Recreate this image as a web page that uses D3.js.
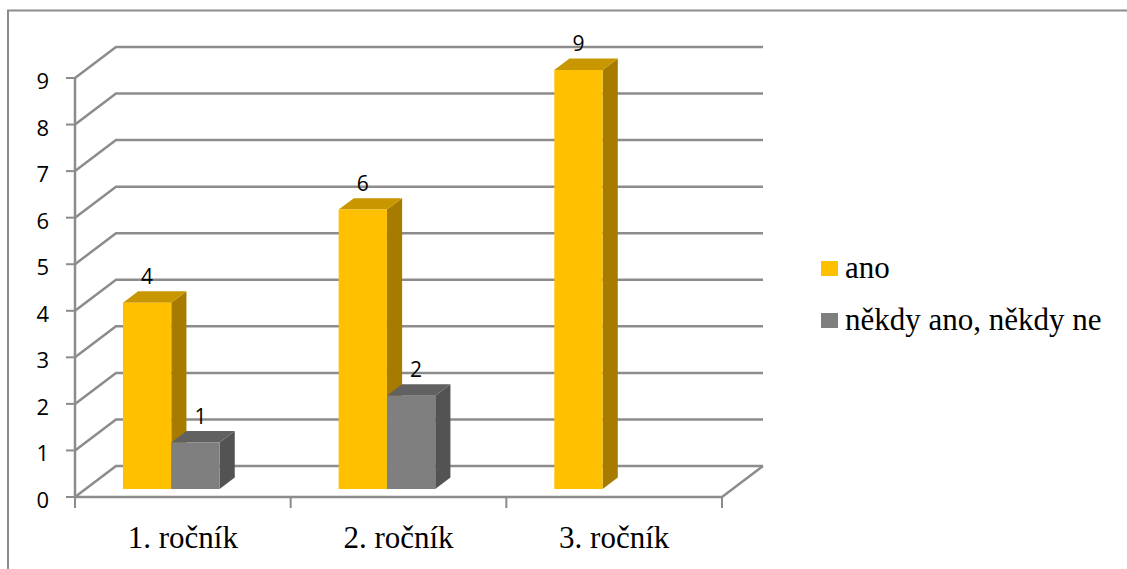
<!DOCTYPE html>
<html>
<head>
<meta charset="utf-8">
<script src="https://cdn.jsdelivr.net/npm/d3@7"></script>
<style>
  html, body { margin: 0; padding: 0; background: #fff; }
  svg { display: block; }
</style>
</head>
<body>
<svg id="chart" width="1127" height="569"></svg>
<script>
// Chart data
const categories = ["1. ročník", "2. ročník", "3. ročník"];
const seriesNames = ["ano", "někdy ano, někdy ne"];
const anoValues = [4, 6, 9];
const nekdyValues = [1, 2, null];
const yTicks = [0, 1, 2, 3, 4, 5, 6, 7, 8, 9];

const seriesValues = [anoValues, nekdyValues];
const faceColors = [
  { front: "#FFC000", top: "#C89700", side: "#A67B00" },
  { front: "#7F7F7F", top: "#616161", side: "#535353" }
];

const svg = d3.select("#chart");

// Outer frame
svg.append("rect")
  .attr("x", 8).attr("y", 10.5)
  .attr("width", 1140).attr("height", 580)
  .attr("fill", "none").attr("stroke", "#8c8c8c").attr("stroke-width", 2);

// Front plane scales
const x0 = d3.scaleBand().domain(categories).range([75, 722]).paddingInner(0).paddingOuter(0);
const y = d3.scaleLinear().domain([0, 9]).range([497, 78]);

// Depth direction of the 3D box (full depth vector)
const depthX = 41, depthY = -31;
const project = (px, v, z) => [px + z * depthX, y(v) + z * depthY];

const bw = x0.bandwidth();
const x1 = d3.scaleBand().domain(seriesNames).range([bw * 0.173, bw * 0.621]).padding(0);
const zFront = 0.26, zBack = 0.63;

const gridColor = "#8c8c8c";
const sansFont = "Open Sans, Liberation Sans, Arial, sans-serif";
const serifFont = "Liberation Serif, Times New Roman, serif";

// Back wall gridlines with the slanted side-wall segment
const grid = svg.append("g");
yTicks.forEach(t => {
  const a = project(75, t, 0), b = project(75, t, 1), c = project(722, t, 1);
  grid.append("path")
    .attr("d", `M${a[0]},${a[1]}L${b[0]},${b[1]}L${c[0]},${c[1]}`)
    .attr("fill", "none").attr("stroke", gridColor).attr("stroke-width", 2.5);
});

// Floor: front edge and right slanted edge
{
  const a = project(75, 0, 0), b = project(722, 0, 0), c = project(722, 0, 1);
  svg.append("path")
    .attr("d", `M${a[0]},${a[1]}L${b[0]},${b[1]}L${c[0]},${c[1]}`)
    .attr("fill", "none").attr("stroke", gridColor).attr("stroke-width", 2.5);
}

// Vertical axis line and ticks
svg.append("line")
  .attr("x1", 75).attr("x2", 75).attr("y1", y(9)).attr("y2", y(0) + 1)
  .attr("stroke", gridColor).attr("stroke-width", 2.5);
const yAxisG = svg.append("g");
yTicks.forEach(t => {
  yAxisG.append("line")
    .attr("x1", 66).attr("x2", 75).attr("y1", y(t)).attr("y2", y(t))
    .attr("stroke", gridColor).attr("stroke-width", 2);
  yAxisG.append("text")
    .attr("x", 49).attr("y", y(t) + 11)
    .attr("text-anchor", "end")
    .attr("font-family", sansFont)
    .attr("font-size", 22)
    .attr("fill", "#000")
    .text(t);
});

// Horizontal axis ticks
const xTickPos = categories.map(c => x0(c)).concat([x0(categories[2]) + bw]);
xTickPos.forEach(px => {
  svg.append("line")
    .attr("x1", px).attr("x2", px).attr("y1", y(0)).attr("y2", y(0) + 11)
    .attr("stroke", gridColor).attr("stroke-width", 2);
});

// Category labels
categories.forEach(c => {
  svg.append("text")
    .attr("x", x0(c) + bw / 2).attr("y", 548)
    .attr("text-anchor", "middle")
    .attr("font-family", serifFont)
    .attr("font-size", 31)
    .attr("fill", "#000")
    .text(c);
});

// 3D columns
const bars = svg.append("g");
const labelShift = [0, 5];
categories.forEach((c, ci) => {
  seriesNames.forEach((s, si) => {
    const v = seriesValues[si][ci];
    if (v == null) return;
    const left = x0(c) + x1(s), right = left + x1.bandwidth();
    const col = faceColors[si];
    const fTL = project(left, v, zFront), fTR = project(right, v, zFront);
    const fBR = project(right, 0, zFront);
    const bTL = project(left, v, zBack), bTR = project(right, v, zBack);
    const bBR = project(right, 0, zBack);
    const fBL = project(left, 0, zFront);
    const poly = pts => "M" + pts.map(p => p.join(",")).join("L") + "Z";
    bars.append("path").attr("d", poly([fTR, bTR, bBR, fBR])).attr("fill", col.side);
    bars.append("path").attr("d", poly([fTL, fTR, bTR, bTL])).attr("fill", col.top);
    bars.append("path").attr("d", poly([fTL, fTR, fBR, fBL])).attr("fill", col.front);
    // value label above the column
    bars.append("text")
      .attr("x", (fTL[0] + fTR[0]) / 2 + labelShift[si])
      .attr("y", bTL[1] - 7)
      .attr("text-anchor", "middle")
      .attr("font-family", sansFont)
      .attr("font-size", 21)
      .attr("fill", "#000")
      .text(v);
  });
});

// Legend
const legend = svg.append("g");
const legendRows = [270, 322];
seriesNames.forEach((s, si) => {
  legend.append("rect")
    .attr("x", 821).attr("y", legendRows[si] - 9)
    .attr("width", 17).attr("height", 15)
    .attr("fill", faceColors[si].front);
  legend.append("text")
    .attr("x", 845).attr("y", legendRows[si] + 8)
    .attr("font-family", serifFont)
    .attr("font-size", 31)
    .attr("fill", "#000")
    .text(s);
});
</script>
</body>
</html>
